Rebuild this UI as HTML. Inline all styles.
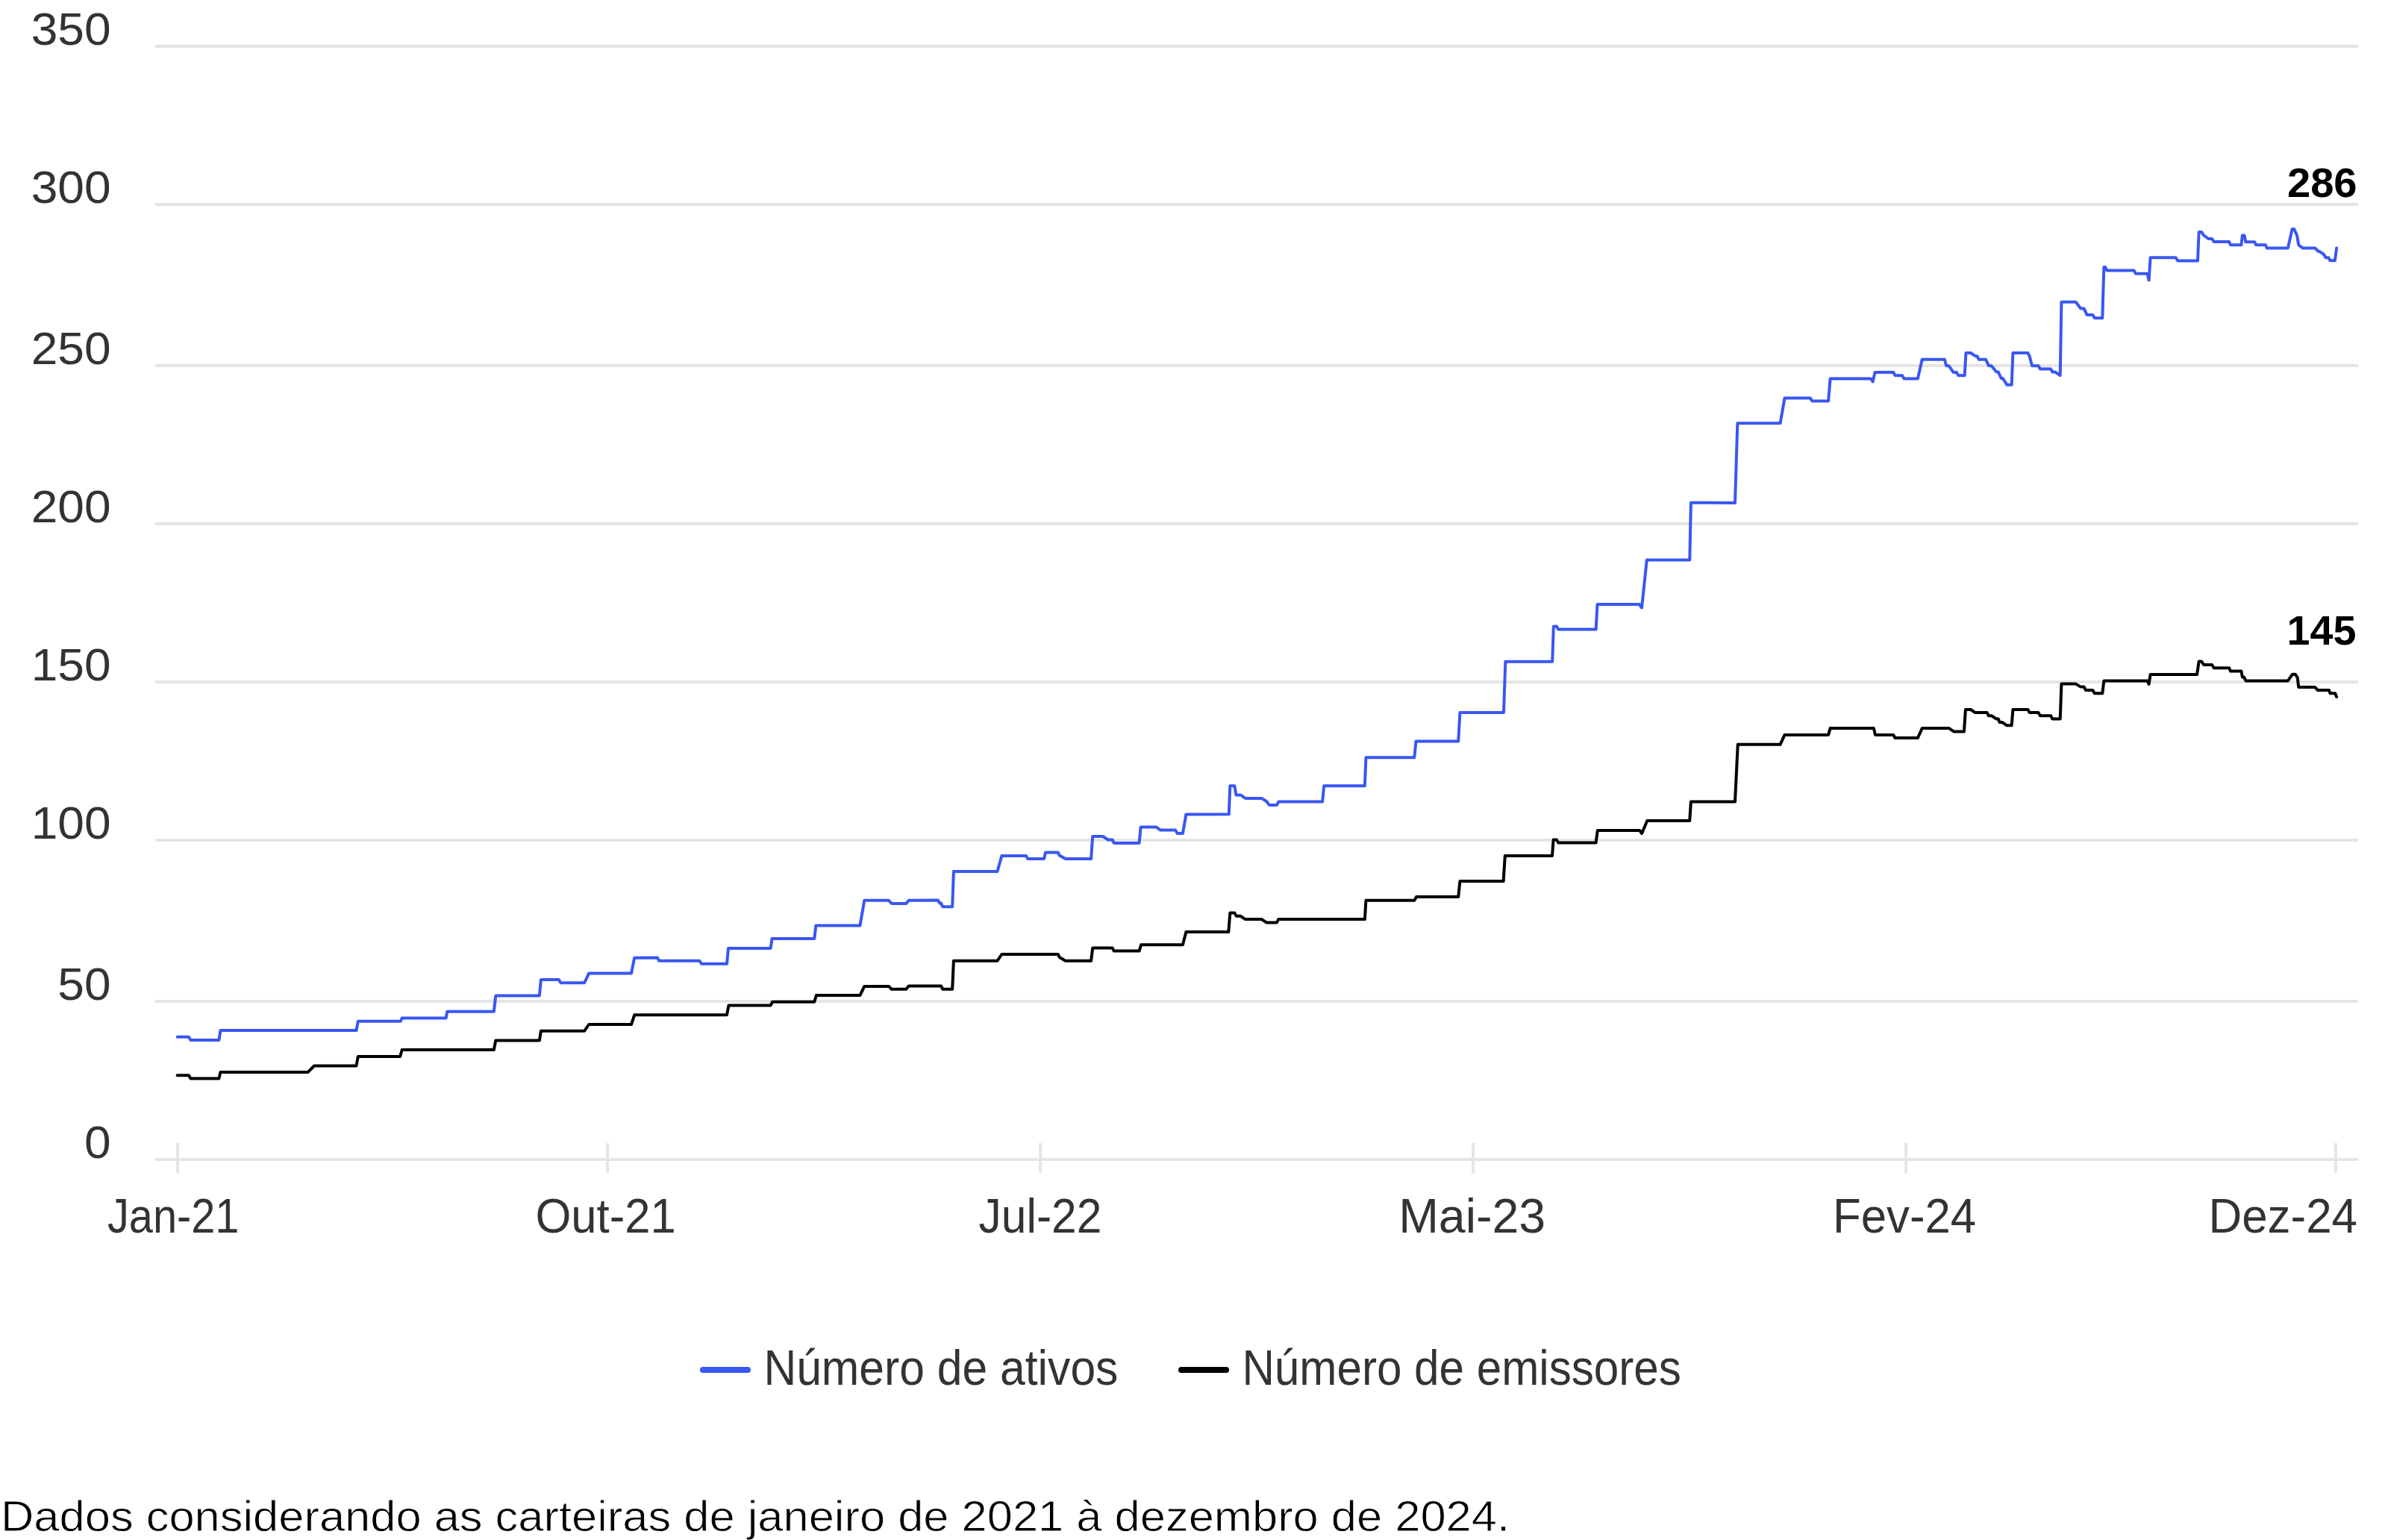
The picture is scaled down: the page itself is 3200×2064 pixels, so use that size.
<!DOCTYPE html>
<html><head><meta charset="utf-8"><title>Número de ativos e emissores</title>
<style>
html,body{margin:0;padding:0;background:#fff;}
body{overflow:hidden;}
svg{display:block;width:100vw;height:auto;font-family:"Liberation Sans", sans-serif;}
</style></head><body>
<svg viewBox="0 0 3200 2064" preserveAspectRatio="xMidYMid meet">
<rect x="0" y="0" width="3200" height="2064" fill="#ffffff"/>
<g fill="#e5e5e5">
<rect x="208" y="60" width="2952" height="4"/>
<rect x="208" y="272" width="2952" height="4"/>
<rect x="208" y="488" width="2952" height="4"/>
<rect x="208" y="700" width="2952" height="4"/>
<rect x="208" y="912" width="2952" height="4"/>
<rect x="208" y="1124" width="2952" height="4"/>
<rect x="208" y="1340" width="2952" height="4"/>
<rect x="208" y="1552" width="2952" height="4"/>
<rect x="236" y="1532" width="4" height="40"/>
<rect x="812" y="1532" width="4" height="40"/>
<rect x="1392" y="1532" width="4" height="40"/>
<rect x="1972" y="1532" width="4" height="40"/>
<rect x="2552" y="1532" width="4" height="40"/>
<rect x="3128" y="1532" width="4" height="40"/>
</g>
<polyline fill="none" stroke="#000000" stroke-width="4" stroke-linejoin="round" stroke-linecap="round" points="237.6,1441.3 252.9,1441.3 255.4,1445.4 293.5,1445.4 295.4,1436.9 412.8,1436.9 421,1428.5 477.5,1428.5 479.8,1416 536.2,1416 538.7,1407 661.8,1407 664.3,1394.4 722.9,1394.4 724.9,1381.7 783.2,1381.7 789.1,1373 846,1373 850.2,1360.3 974,1360.2 976.5,1347.5 1032.6,1347.5 1035.1,1342.8 1091.3,1342.8 1093.8,1334.1 1152.4,1334.1 1158.3,1321.9 1190.9,1321.9 1194.8,1325.7 1214.4,1325.7 1217.7,1321.6 1261.1,1321.6 1263.3,1325.7 1276.2,1325.7 1277.9,1287.7 1336.5,1287.7 1342.4,1279 1417.8,1279 1419.8,1283.1 1427.8,1287.7 1462.1,1287.7 1464.2,1270.4 1490.6,1270.4 1492.8,1274.6 1526.6,1274.6 1529.1,1266.2 1584.9,1266.2 1589.4,1249.1 1646.3,1249.1 1648.3,1223.5 1654.3,1223.5 1656.8,1227.8 1662.4,1227.8 1668.8,1232.1 1690.7,1232.1 1697.1,1236.4 1711,1236.4 1713.2,1232.1 1828.9,1232.1 1830.4,1206.8 1895.3,1206.8 1897.9,1202.1 1954.2,1202.1 1956.4,1181.1 2014.6,1181.1 2016.8,1146.9 2080,1146.9 2081.6,1125.4 2085.8,1125.4 2088.3,1129.6 2138.6,1129.6 2140.8,1112.9 2197.2,1112.9 2200.1,1117 2207.3,1100 2264.2,1100 2265.9,1074.4 2325,1074.4 2328.7,997.8 2385.6,997.8 2391.5,984.9 2450.1,984.9 2452.6,976.1 2510.9,976.1 2512.9,984.9 2537.2,984.9 2539.4,989 2569.9,989 2575.7,976.1 2611.8,976.1 2618.5,980.6 2631.9,980.6 2633.9,950.9 2640.9,951 2646.8,955.1 2662.7,955.1 2664.9,959.3 2668.6,959.3 2675.3,963.5 2677.8,963.5 2679.5,968 2682.8,968 2689,972.2 2695.7,972.2 2697.4,951 2717.5,951 2719.7,955.1 2731.4,955.1 2733.9,959.3 2748.1,959.3 2750.3,963.5 2760.7,963.5 2762.4,916.6 2781.6,916.6 2788.3,920.6 2792.5,920.6 2795,925 2804.3,925 2806.8,929.2 2817.3,929.2 2819.3,912.4 2877.6,912.4 2879.6,917 2881.6,903.9 2944.1,903.9 2946.6,886.5 2950,886.5 2953.3,891 2964.2,891 2966.7,895.2 2987.2,895.2 2988.9,899.6 3003.4,899.6 3004.9,907.5 3007.1,907.5 3009.4,912.4 3065.9,912.4 3072,903.7 3075.7,903.7 3078.7,908.2 3080.2,921.1 3102.1,921.1 3105.9,925 3121,925 3122.5,929.3 3129.2,929.3 3131.1,933.9"/>
<polyline fill="none" stroke="#3957f2" stroke-width="4" stroke-linejoin="round" stroke-linecap="round" points="237.6,1389.8 252.9,1389.8 255.4,1393.9 293.5,1393.9 295.4,1381.1 477.5,1381.1 479.8,1368.8 536.7,1368.8 538.7,1364.6 597.6,1364.6 599.3,1355.7 661.8,1355.7 664.3,1334.4 722.9,1334.4 724.9,1313 748.9,1313 751.4,1317.2 783.2,1317.2 789.1,1304.6 846,1304.6 850.2,1283.7 881,1283.6 883.2,1287.7 937.5,1287.7 940,1291.7 974,1291.7 976,1271 1032.6,1271 1034.6,1257.9 1091.3,1257.9 1093.3,1240.6 1152.4,1240.6 1158.3,1206.8 1190.9,1206.8 1194.8,1211 1214.4,1211 1217.7,1206.8 1257,1206.6 1259.5,1210.6 1261.1,1210.6 1263.3,1215.3 1276.2,1215.3 1277.9,1167.9 1336.5,1167.9 1342.4,1147 1375,1147 1377.2,1151.1 1399,1151.1 1401,1142.4 1417.8,1142.4 1419.8,1146.6 1427.8,1151.1 1462.1,1151.1 1464.2,1121 1478,1121 1484.8,1125.5 1490.6,1125.5 1492.8,1129.9 1526.6,1129.9 1528.6,1108.4 1549.2,1108.4 1555.1,1112.6 1575.2,1112.6 1577.7,1117.1 1584.9,1117.1 1589.4,1091.4 1646.8,1091.3 1648.3,1053.2 1654.3,1053.2 1656.4,1065.4 1662.4,1065.4 1668.8,1069.9 1690.7,1069.9 1697.1,1074 1701,1078.9 1711,1078.9 1713.2,1074.6 1772.1,1074.6 1774.2,1053.2 1828.9,1053.2 1830.4,1015.3 1895.3,1015.3 1897.4,993.6 1954.2,993.6 1956.4,955 2015,955 2017.3,886.8 2080.2,886.8 2081.8,839.5 2085.9,839.5 2088.2,843.6 2138.6,843.6 2140.5,810 2196.8,810 2200,814.5 2206.8,750.5 2264.3,750.5 2265.9,673.8 2325,674 2328.3,567.2 2385.6,567.2 2391.5,533.4 2425.8,533.4 2428.3,537.4 2450.1,537.4 2452.6,507.4 2507.1,507.4 2509.6,511.6 2512.6,498.9 2537.2,498.9 2539.4,503.2 2549,503.2 2551.5,507.4 2569.9,507.4 2575.7,481.8 2605.9,481.8 2608.1,490.2 2611.4,490.2 2617.6,498.9 2621.8,498.9 2624.3,503.2 2632.7,503.2 2634.4,473.1 2640.9,473 2646.8,477.2 2649.3,477.2 2651.8,481.8 2661,481.8 2664.9,490.2 2668.6,490.2 2675.3,498.6 2677.8,498.6 2681.6,507 2683.7,507 2689.5,515.8 2695.7,515.8 2697.4,473 2717.5,473 2719.7,477.7 2723,490.2 2731.4,490.2 2733.9,494.4 2748.1,494.4 2750.3,498.6 2754,498.6 2760.7,503.1 2762.4,404.8 2781.6,404.8 2788.3,413.5 2792.5,413.5 2796.7,422 2804.3,422 2806.8,426.2 2817.3,426.2 2819.3,357.9 2821,357.9 2823.5,362.6 2859.5,362.6 2862,366.8 2877.6,366.8 2879.6,375.5 2881.6,345.3 2915.6,345.3 2918.2,349.5 2945,349.5 2946.6,311 2950,311 2953.3,315.5 2959.2,319.9 2964.2,319.9 2966.7,324.1 2987.2,324.1 2988.9,328.2 3003.4,328.2 3004.9,315.4 3007.5,315.4 3009.4,324.3 3021.3,324.3 3023.1,328.2 3035.8,328.2 3037.7,332.4 3065.9,332.4 3071.6,307.1 3074.2,307.1 3078,315.4 3080.2,328.2 3085.5,332.4 3102.1,332.4 3106.6,336.9 3108.1,336.9 3114.2,341.1 3116.4,345.2 3120.2,345.2 3122.5,349.3 3128.9,349.3 3131.1,332.4"/>
<line x1="942" y1="1836" x2="1002" y2="1836" stroke="#3957f2" stroke-width="8" stroke-linecap="round"/>
<line x1="1583" y1="1836" x2="1643" y2="1836" stroke="#000000" stroke-width="8" stroke-linecap="round"/>
<text id="y350" x="148.50" y="60.00" font-size="60.5" fill="#333333" text-anchor="end" transform="translate(146 0) scale(1.06 1) translate(-146 0)">350</text>
<text id="y300" x="148.50" y="272.00" font-size="60.5" fill="#333333" text-anchor="end" transform="translate(146 0) scale(1.06 1) translate(-146 0)">300</text>
<text id="y250" x="148.50" y="488.00" font-size="60.5" fill="#333333" text-anchor="end" transform="translate(146 0) scale(1.06 1) translate(-146 0)">250</text>
<text id="y200" x="148.50" y="700.00" font-size="60.5" fill="#333333" text-anchor="end" transform="translate(146 0) scale(1.06 1) translate(-146 0)">200</text>
<text id="y150" x="148.50" y="912.00" font-size="60.5" fill="#333333" text-anchor="end" transform="translate(146 0) scale(1.06 1) translate(-146 0)">150</text>
<text id="y100" x="148.50" y="1124.00" font-size="60.5" fill="#333333" text-anchor="end" transform="translate(146 0) scale(1.06 1) translate(-146 0)">100</text>
<text id="y50" x="148.50" y="1340.00" font-size="60.5" fill="#333333" text-anchor="end" transform="translate(146 0) scale(1.06 1) translate(-146 0)">50</text>
<text id="y0" x="148.50" y="1552.00" font-size="60.5" fill="#333333" text-anchor="end" transform="translate(146 0) scale(1.06 1) translate(-146 0)">0</text>
<text id="xJan-21" x="232.20" y="1652.00" font-size="65.5" fill="#333333" text-anchor="middle" textLength="176.58" lengthAdjust="spacingAndGlyphs">Jan-21</text>
<text id="xOut-21" x="811.60" y="1652.00" font-size="65.5" fill="#333333" text-anchor="middle" textLength="188.28" lengthAdjust="spacingAndGlyphs">Out-21</text>
<text id="xJul-22" x="1394.00" y="1652.00" font-size="65.5" fill="#333333" text-anchor="middle" textLength="164.88" lengthAdjust="spacingAndGlyphs">Jul-22</text>
<text id="xMai-23" x="1972.70" y="1652.00" font-size="65.5" fill="#333333" text-anchor="middle" textLength="197.09" lengthAdjust="spacingAndGlyphs">Mai-23</text>
<text id="xFev-24" x="2552.10" y="1652.00" font-size="65.5" fill="#333333" text-anchor="middle" textLength="192.07" lengthAdjust="spacingAndGlyphs">Fev-24</text>
<text id="xDez-24" x="3159.00" y="1652.00" font-size="65.5" fill="#333333" text-anchor="end" textLength="199.56" lengthAdjust="spacingAndGlyphs">Dez-24</text>
<text id="leg1" x="1023.40" y="1856.00" font-size="66.5" fill="#333333" textLength="475.00" lengthAdjust="spacingAndGlyphs">Número de ativos</text>
<text id="leg2" x="1664.40" y="1856.00" font-size="66.5" fill="#333333" textLength="588.50" lengthAdjust="spacingAndGlyphs">Número de emissores</text>
<text id="foot" x="1.00" y="2052.40" font-size="57.3" fill="#000000" stroke="#ffffff" stroke-width="0.8" textLength="2022.01" lengthAdjust="spacingAndGlyphs">Dados considerando as carteiras de janeiro de 2021 à dezembro de 2024.</text>
<text id="a286" x="3158.60" y="264.00" font-size="55.0" fill="#000000" text-anchor="end" font-weight="bold" textLength="93.65" lengthAdjust="spacingAndGlyphs">286</text>
<text id="a145" x="3157.40" y="863.70" font-size="55.0" fill="#000000" text-anchor="end" font-weight="bold" textLength="92.83" lengthAdjust="spacingAndGlyphs">145</text>
</svg>
</body></html>
